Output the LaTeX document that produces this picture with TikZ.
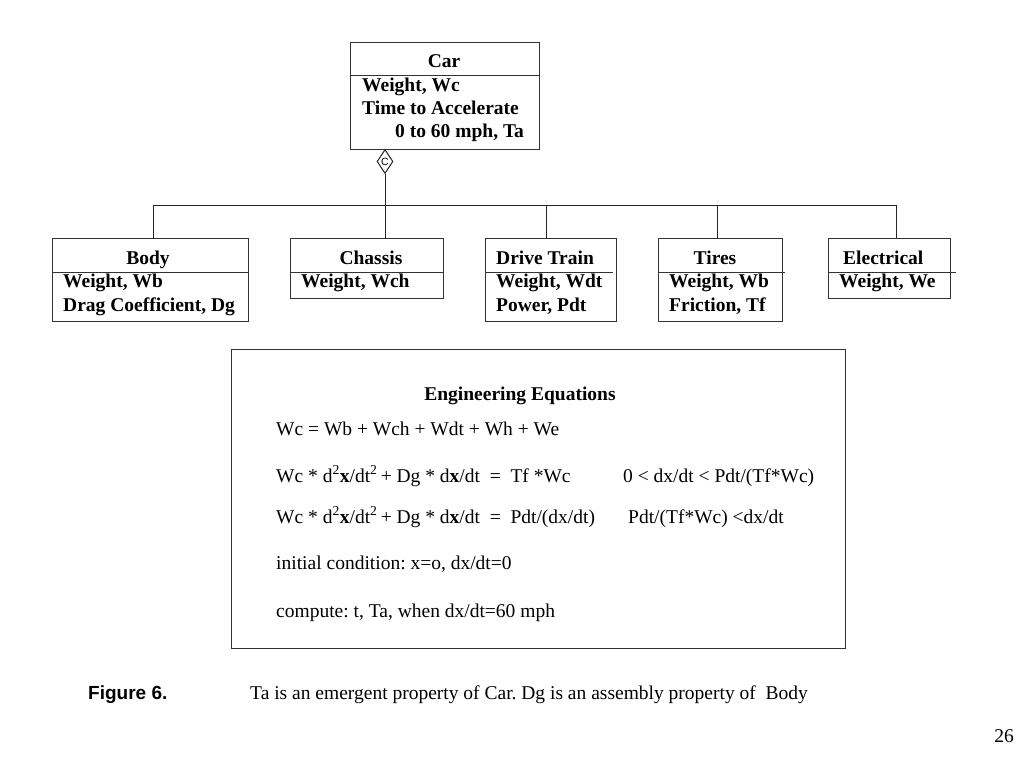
\documentclass[tikz,border=0pt]{standalone}
\usepackage{fontspec}
\setmainfont{Liberation Serif}
\setsansfont{Liberation Sans}
\usetikzlibrary{shapes.geometric}
\frenchspacing
\begin{document}
\begin{tikzpicture}[x=1pt,y=-1pt,
  box/.style={draw=black!80, line width=1pt, anchor=north west, inner sep=0pt},
  sepline/.style={draw=black!80, line width=1pt},
  conn/.style={draw=black!85, line width=1pt},
  bt/.style={font=\fontsize{19.5}{23}\selectfont\bfseries, anchor=base west, inner sep=0pt},
  btc/.style={bt, anchor=base},
  eq/.style={font=\fontsize{19.5}{23}\selectfont, anchor=base west, inner sep=0pt},
  dia/.style={draw=black!85, line width=1pt, shape=diamond, inner sep=0pt, minimum width=16pt, minimum height=24pt, fill=white, font=\sffamily\fontsize{10.5}{10.5}\selectfont}
]
\useasboundingbox (0,0) rectangle (1024,768);

% Car
\node[box, minimum width=189pt, minimum height=107pt] (car) at (350,42) {};
\draw[sepline] (350,75) -- (539,75);
\node[btc] (cart) at (444,67) {Car};
\node[bt] (c1) at (362,91) {Weight, Wc};
\node[bt] (c2) at (362,114) {Time to Accelerate};
\node[bt] (c3) at (395,137) {0 to 60 mph, Ta};

% diamond
\node[dia, anchor=north] (dm) at (385,149) {C};

% Body
\node[box, minimum width=196pt, minimum height=83pt] (body) at (52,238) {};
\draw[sepline] (52,272) -- (248,272);
\node[btc] (bodyt) at (148,264) {Body};
\node[bt] (b1) at (63,287) {Weight, Wb};
\node[bt] (b2) at (63,311) {Drag Coefficient, Dg};

% Chassis
\node[box, minimum width=153pt, minimum height=60pt] (chassis) at (290,238) {};
\draw[sepline] (290,272) -- (443,272);
\node[btc] (chat) at (371,264) {Chassis};
\node[bt] (ch1) at (301,287) {Weight, Wch};

% Drive Train
\node[box, minimum width=131pt, minimum height=83pt] (drive) at (485,238) {};
\draw[sepline] (485,272) -- (613,272);
\node[bt] (dt) at (496,264) {Drive Train};
\node[bt] (d1) at (496,287) {Weight, Wdt};
\node[bt] (d2) at (496,311) {Power, Pdt};

% Tires
\node[box, minimum width=124pt, minimum height=83pt] (tires) at (658,238) {};
\draw[sepline] (658,272) -- (785,272);
\node[btc] (tt) at (715,264) {Tires};
\node[bt] (t1) at (669,287) {Weight, Wb};
\node[bt] (t2) at (669,311) {Friction, Tf};

% Electrical
\node[box, minimum width=122pt, minimum height=60pt] (elec) at (828,238) {};
\draw[sepline] (828,272) -- (956,272);
\node[bt] (et) at (843,264) {Electrical};
\node[bt] (e1) at (839,287) {Weight, We};

% connectors
\coordinate (busL) at (153,205);
\coordinate (busC) at (385,205);
\coordinate (busD) at (546,205);
\coordinate (busT) at (717,205);
\coordinate (busR) at (896,205);
\draw[conn] (busL) -- (busR);
\draw[conn] (dm.south) -- (dm.south |- chassis.north);
\draw[conn] (busL) -- (busL |- body.north);
\draw[conn] (busD) -- (busD |- drive.north);
\draw[conn] (busT) -- (busT |- tires.north);
\draw[conn] (busR) -- (busR |- elec.north);

% Equations
\node[box, minimum width=614pt, minimum height=299pt] (eqbox) at (231,349) {};
\node[btc] (eqt) at (520,400) {Engineering Equations};
\node[eq] (q1) at (276,435) {Wc = Wb + Wch + Wdt + Wh + We};
\node[eq] (q2) at (276,482) {Wc * d\textsuperscript{2}\textbf{x}/dt\textsuperscript{2}\,+ Dg * d\textbf{x}/dt \ = \ Tf *Wc};
\node[eq] (q2r) at (623,482) {0 < dx/dt < Pdt/(Tf*Wc)};
\node[eq] (q3) at (276,523) {Wc * d\textsuperscript{2}\textbf{x}/dt\textsuperscript{2}\,+ Dg * d\textbf{x}/dt \ = \ Pdt/(dx/dt)};
\node[eq] (q3r) at (628,523) {Pdt/(Tf*Wc) <dx/dt};
\node[eq] (q4) at (276,569) {initial condition: x=o, dx/dt=0};
\node[eq] (q5) at (276,617) {compute: t, Ta, when dx/dt=60 mph};

% caption
\node[font=\sffamily\bfseries\fontsize{19}{23}\selectfont, anchor=base west, inner sep=0pt] (fig) at (88,699) {Figure 6.};
\node[eq] (cap) at (250,699) {Ta is an emergent property of Car. Dg is an assembly property of \ Body};
\node[eq, anchor=base east] (pg) at (1014,742) {26};
\end{tikzpicture}
\end{document}
